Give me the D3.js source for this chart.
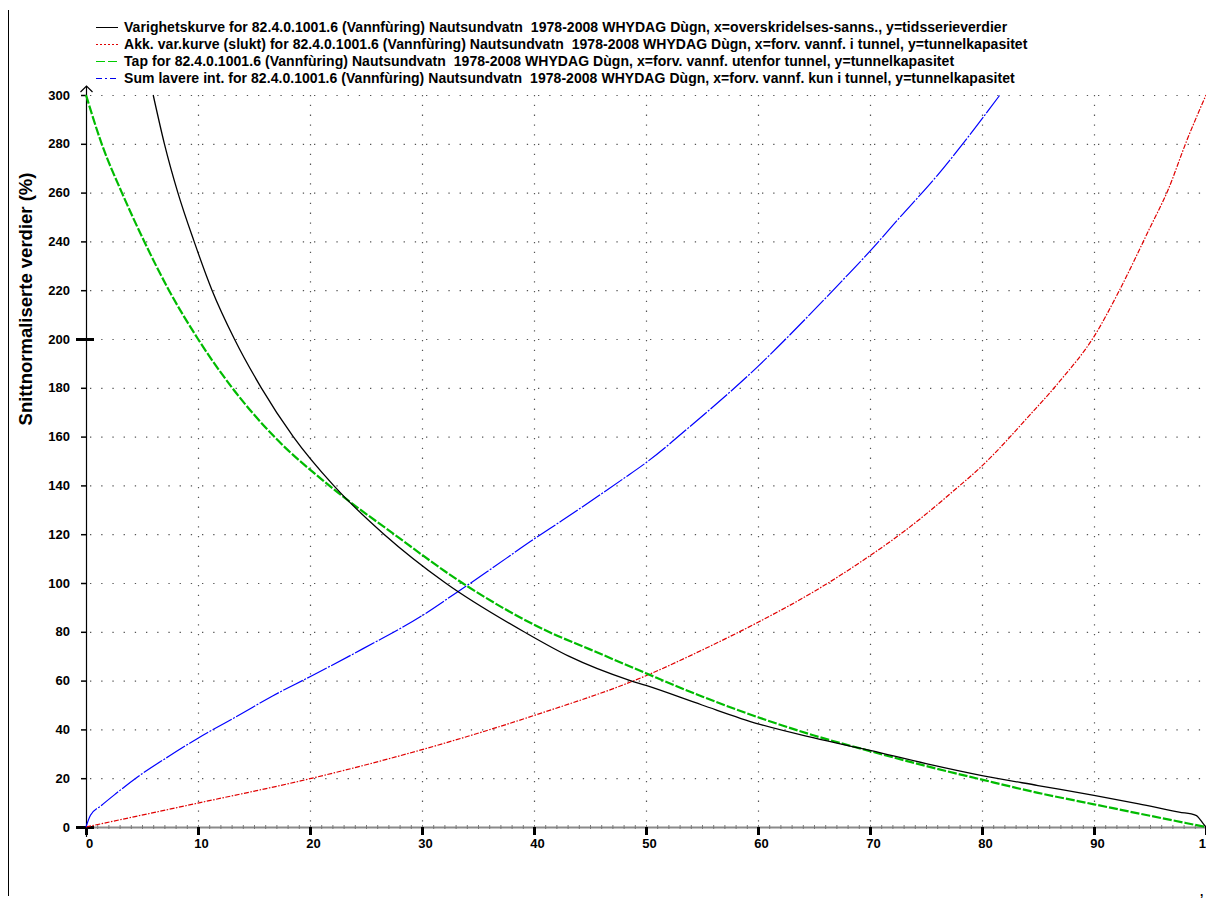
<!DOCTYPE html>
<html>
<head>
<meta charset="utf-8">
<script src="https://cdn.jsdelivr.net/npm/d3@7"></script>
<style>
  html, body { margin: 0; padding: 0; background: #fff; }
  svg { display: block; font-family: "Liberation Sans", Arial, sans-serif; }
</style>
</head>
<body>
<div id="chart"></div>
<script>
// ---- data ----
const xTicks = [0, 10, 20, 30, 40, 50, 60, 70, 80, 90, 100];
const yTicks = [0, 20, 40, 60, 80, 100, 120, 140, 160, 180, 200, 220, 240, 260, 280, 300];

const legendLabels = [
  "Varighetskurve for 82.4.0.1001.6 (Vannfùring) Nautsundvatn  1978-2008 WHYDAG Dùgn, x=overskridelses-sanns., y=tidsserieverdier",
  "Akk. var.kurve (slukt) for 82.4.0.1001.6 (Vannfùring) Nautsundvatn  1978-2008 WHYDAG Dùgn, x=forv. vannf. i tunnel, y=tunnelkapasitet",
  "Tap for 82.4.0.1001.6 (Vannfùring) Nautsundvatn  1978-2008 WHYDAG Dùgn, x=forv. vannf. utenfor tunnel, y=tunnelkapasitet",
  "Sum lavere int. for 82.4.0.1001.6 (Vannfùring) Nautsundvatn  1978-2008 WHYDAG Dùgn, x=forv. vannf. kun i tunnel, y=tunnelkapasitet"
];

// duration curve (black)
const varighet = [
  [6.0, 300], [7.0, 280], [8.2, 260], [9.65, 240], [11.25, 220], [13.25, 200],
  [15.65, 180], [18.5, 160], [22.1, 140], [26.6, 120], [32.1, 100], [39.1, 80],
  [43.1, 70], [48.6, 60], [50, 58], [55, 50], [60, 42.3], [65, 36.5], [70, 31.4],
  [75, 26], [80, 21.1], [85, 17], [90, 13], [94, 9.5], [97.6, 6.1], [99.1, 4.8],
  [99.75, 1.4], [100, 0]
];
// accumulated (red)
const akk = [
  [0, 0], [10, 9.8], [20, 19.8], [30, 31.7], [40, 45.7], [50, 62], [55, 72.5],
  [60, 83.9], [65, 96.5], [70, 111.2], [73, 121], [77.6, 138.3], [80, 148],
  [84.3, 169], [87, 183], [90, 201], [92.3, 220.2], [94.9, 244.7], [96.6, 261],
  [98.3, 281.5], [100, 300]
];
// loss (green)
const tap = [
  [0, 300], [1.4, 280], [3.2, 260], [5.2, 240], [7.4, 220], [10, 200], [13.05, 180],
  [16.8, 160], [21.7, 140], [27.5, 120], [33.6, 100], [41.3, 80], [45, 72.8],
  [50, 63], [55, 53.5], [60, 45], [65, 37.5], [70, 31.1], [75, 25], [80, 19.4],
  [85, 14], [90, 9.3], [95, 4.6], [100, 0]
];
// sum lower (blue)
const sumLavere = [
  [0, 0], [0.4, 4.8], [1.4, 8.9], [2.65, 13.6], [4.6, 20.5], [7.4, 29], [10, 36.4],
  [13.8, 46.2], [16.7, 53.8], [20, 61.6], [24.7, 73], [30, 86.6], [32.9, 95.5],
  [35.8, 104.6], [40, 118], [42.5, 125.6], [47.9, 142.5], [50, 149.3], [54.3, 165.6],
  [60, 188.8], [64.3, 208.5], [67.6, 224.3], [70, 236], [72.6, 249.5], [76, 267],
  [79.3, 286], [81.6, 300]
];

const width = 1206, height = 898;
const plotLeft = 86, plotRight = 1206, plotTop = 95, plotBottom = 827;

const svg = d3.select("#chart").append("svg")
  .attr("width", width)
  .attr("height", height);

const x = d3.scaleLinear().domain([0, 100]).range([plotLeft, plotRight]);
const y = d3.scaleLinear().domain([0, 300]).range([plotBottom, plotTop]);

// window frame line on the left
svg.append("line")
  .attr("x1", 8.5).attr("x2", 8.5).attr("y1", 10).attr("y2", 896)
  .attr("stroke", "#000").attr("stroke-width", 1);

// dotted grid
svg.append("g").selectAll("line")
  .data(yTicks.filter(d => d > 0))
  .enter().append("line")
    .attr("x1", plotLeft + 4).attr("x2", plotRight)
    .attr("y1", d => y(d) + 0.5).attr("y2", d => y(d) + 0.5)
    .attr("stroke", "#555").attr("stroke-width", 1.2)
    .attr("stroke-dasharray", "1.3,9.9");

svg.append("g").selectAll("line")
  .data(xTicks.filter(d => d > 0 && d < 100))
  .enter().append("line")
    .attr("x1", d => x(d) + 0.5).attr("x2", d => x(d) + 0.5)
    .attr("y1", plotTop).attr("y2", plotBottom - 4)
    .attr("stroke", "#555").attr("stroke-width", 1.2)
    .attr("stroke-dasharray", "1.3,8.5");

// x axis: minor ticks each unit, major each 10
const xMinor = svg.append("g")
  .attr("transform", `translate(0,${plotBottom})`)
  .call(d3.axisBottom(x).ticks(100).tickSize(3).tickSizeOuter(0).tickFormat(""));
xMinor.select(".domain").attr("stroke", "#8a8a8a").attr("stroke-width", 2);
xMinor.selectAll(".tick line").attr("stroke", "#777").attr("y1", -2).attr("y2", 2);

const xAxis = svg.append("g")
  .attr("transform", `translate(0,${plotBottom})`)
  .call(d3.axisBottom(x).tickValues(xTicks).tickSize(8).tickSizeOuter(0).tickPadding(4));
xAxis.select(".domain").remove();
xAxis.selectAll(".tick line").attr("stroke", "#000").attr("stroke-width", 3);
xAxis.selectAll(".tick text")
  .attr("dx", 3)
  .style("font-size", "13px").style("font-weight", "bold").attr("fill", "#000")
  .style("font-family", "'Liberation Sans', Arial, sans-serif");

// y axis
const yAxis = svg.append("g")
  .attr("transform", `translate(${plotLeft},0)`)
  .call(d3.axisLeft(y).tickValues(yTicks).tickSize(5).tickSizeOuter(0).tickPadding(8));
yAxis.select(".domain").remove();
yAxis.selectAll(".tick line").attr("stroke", "#000").attr("stroke-width", 1.5);
yAxis.selectAll(".tick")
  .filter(d => d === 0 || d === 200)
  .select("line")
    .attr("x1", 8).attr("x2", -10).attr("stroke-width", 3);
yAxis.selectAll(".tick text")
  .attr("dx", -3)
  .style("font-size", "13px").style("font-weight", "bold").attr("fill", "#000")
  .style("font-family", "'Liberation Sans', Arial, sans-serif");

svg.append("line")
  .attr("x1", plotLeft + 0.5).attr("x2", plotLeft + 0.5)
  .attr("y1", plotBottom + 10).attr("y2", plotTop - 9)
  .attr("stroke", "#000").attr("stroke-width", 1.2);
svg.append("path")
  .attr("d", `M${plotLeft - 5.5},${plotTop - 3} L${plotLeft + 0.5},${plotTop - 9} L${plotLeft + 6.5},${plotTop - 3}`)
  .attr("fill", "none").attr("stroke", "#000").attr("stroke-width", 1.2);

// y label
svg.append("text")
  .attr("transform", `translate(32,299) rotate(-90)`)
  .attr("text-anchor", "middle")
  .style("font-size", "18.5px").style("font-weight", "bold")
  .text("Snittnormaliserte verdier (%)");

// curves
const line = d3.line()
  .x(d => x(d[0]))
  .y(d => y(d[1]))
  .curve(d3.curveMonotoneX);

const plot = svg.append("g");
plot.append("path").datum(akk)
  .attr("fill", "none").attr("stroke", "#e00000").attr("stroke-width", 1.2)
  .attr("stroke-dasharray", "5,1.5,1.5,1.5").attr("d", line);
plot.append("path").datum(sumLavere)
  .attr("fill", "none").attr("stroke", "#0000ff").attr("stroke-width", 1.2)
  .attr("stroke-dasharray", "22,1.5,2,1.5").attr("d", line);
plot.append("path").datum(tap)
  .attr("fill", "none").attr("stroke", "#00bb00").attr("stroke-width", 2.2)
  .attr("stroke-dasharray", "9,2").attr("d", line);
plot.append("path").datum(varighet)
  .attr("fill", "none").attr("stroke", "#000").attr("stroke-width", 1.3)
  .attr("d", line);

// legend
const legendStyles = [
  { color: "#000", dash: null },
  { color: "#e00000", dash: "2,2" },
  { color: "#00cc00", dash: "9,3" },
  { color: "#0000ee", dash: "6,3,2,3" }
];
const legend = svg.append("g");
legendLabels.forEach((label, i) => {
  const ly = 27 + i * 17;
  legend.append("line")
    .attr("x1", 96).attr("x2", 118).attr("y1", ly + 0.5).attr("y2", ly + 0.5)
    .attr("stroke", legendStyles[i].color).attr("stroke-width", 1)
    .attr("stroke-dasharray", legendStyles[i].dash);
  legend.append("text")
    .attr("x", 124).attr("y", ly + 5)
    .style("font-size", "14px").style("font-weight", "bold")
    .style("letter-spacing", "0.05px")
    .style("white-space", "pre")
    .text(label);
});

// clipped axis unit at bottom right
svg.append("text")
  .attr("x", 1200).attr("y", 896)
  .style("font-size", "12px").style("font-weight", "bold")
  .text(",");
</script>
</body>
</html>
